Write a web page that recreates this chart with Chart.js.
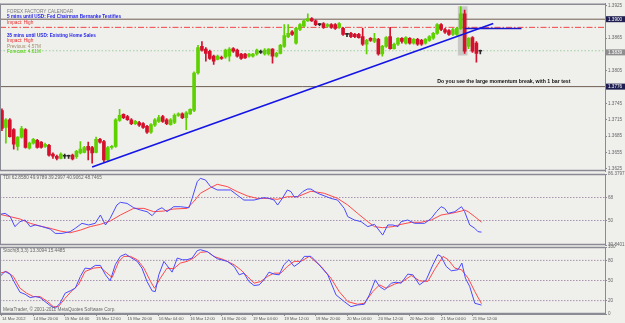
<!DOCTYPE html>
<html>
<head>
<meta charset="utf-8">
<script src="https://cdn.jsdelivr.net/npm/chart.js@4.4.1/dist/chart.umd.min.js"></script>
<style>
  html, body { margin: 0; padding: 0; background: #efefec; }
  #wrap { position: relative; width: 625px; height: 323px; overflow: hidden; }
  #wrap canvas { position: absolute; left: 0; top: 0; }
</style>
</head>
<body>
<div id="wrap">
  <canvas id="mainChart" width="625" height="323"></canvas>
  <canvas id="tdiChart" width="625" height="323"></canvas>
  <canvas id="stochChart" width="625" height="323"></canvas>
</div>
<script>
//****data, one entry per bar (bar 0 = 14 Mar 12:00)
var opens = [1.3732,1.3701,1.3715,1.3697,1.3666,1.3683,1.3697,1.3663,1.3672,1.3677,
	1.3674,1.3666,1.3668,1.3652,1.3648,1.3644,1.3648,1.3648,1.3650,1.3647,
	1.3654,1.3655,1.3666,1.3664,1.3655,1.3679,1.3675,1.3641,1.3664,1.3666,
	1.3714,1.3725,1.3721,1.3715,1.3708,1.3710,1.3708,1.3703,1.3692,1.3705,
	1.3712,1.3721,1.3715,1.3706,1.3710,1.3723,1.3726,1.3719,1.3726,1.3732,
	1.3801,1.3850,1.3845,1.3841,1.3832,1.3826,1.3830,1.3830,1.3832,1.3846,
	1.3843,1.3836,1.3836,1.3832,1.3832,1.3836,1.3839,1.3836,1.3836,1.3845,
	1.3832,1.3837,1.3850,1.3868,1.3877,1.3856,1.3881,1.3887,1.3897,1.3901,
	1.3897,1.3890,1.3892,1.3887,1.3890,1.3890,1.3885,1.3883,1.3872,1.3874,
	1.3872,1.3872,1.3868,1.3854,1.3865,1.3859,1.3863,1.3836,1.3850,1.3868,
	1.3846,1.3854,1.3865,1.3856,1.3865,1.3856,1.3863,1.3861,1.3856,1.3861,
	1.3865,1.3874,1.3890,1.3881,1.3879,1.3872,1.3872,1.3883,1.3910,1.3850,
	1.3866,1.3856,1.3841];
var highs = [1.3735,1.3717,1.3717,1.3699,1.3684,1.3703,1.3699,1.3674,1.3681,1.3679,
	1.3675,1.3672,1.3670,1.3654,1.3650,1.3654,1.3652,1.3650,1.3652,1.3659,
	1.3675,1.3666,1.3674,1.3666,1.3683,1.3681,1.3677,1.3666,1.3668,1.3717,
	1.3734,1.3726,1.3723,1.3717,1.3714,1.3712,1.3710,1.3705,1.3708,1.3717,
	1.3723,1.3723,1.3717,1.3717,1.3726,1.3728,1.3728,1.3730,1.3735,1.3803,
	1.3852,1.3859,1.3848,1.3843,1.3834,1.3834,1.3832,1.3845,1.3848,1.3848,
	1.3845,1.3837,1.3837,1.3837,1.3837,1.3845,1.3843,1.3846,1.3846,1.3846,
	1.3839,1.3854,1.3890,1.3890,1.3879,1.3885,1.3892,1.3899,1.3910,1.3903,
	1.3899,1.3892,1.3894,1.3892,1.3892,1.3892,1.3894,1.3885,1.3874,1.3876,
	1.3874,1.3874,1.3883,1.3863,1.3866,1.3874,1.3865,1.3852,1.3868,1.3885,
	1.3856,1.3866,1.3866,1.3868,1.3866,1.3865,1.3865,1.3863,1.3865,1.3870,
	1.3876,1.3892,1.3892,1.3883,1.3881,1.3883,1.3885,1.3923,1.3917,1.3866,
	1.3868,1.3859,1.3843];
var lows = [1.3695,1.3672,1.3683,1.3661,1.3659,1.3681,1.3663,1.3661,1.3670,1.3663,
	1.3663,1.3664,1.3648,1.3644,1.3641,1.3643,1.3644,1.3644,1.3641,1.3644,
	1.3652,1.3654,1.3641,1.3635,1.3654,1.3672,1.3637,1.3639,1.3661,1.3664,
	1.3712,1.3717,1.3714,1.3706,1.3706,1.3703,1.3699,1.3690,1.3690,1.3703,
	1.3710,1.3710,1.3706,1.3705,1.3708,1.3721,1.3717,1.3697,1.3725,1.3730,
	1.3799,1.3841,1.3823,1.3826,1.3817,1.3825,1.3826,1.3828,1.3823,1.3839,
	1.3830,1.3826,1.3828,1.3830,1.3830,1.3834,1.3837,1.3834,1.3834,1.3819,
	1.3830,1.3836,1.3848,1.3866,1.3870,1.3854,1.3879,1.3885,1.3896,1.3896,
	1.3888,1.3888,1.3883,1.3885,1.3883,1.3881,1.3883,1.3870,1.3868,1.3866,
	1.3866,1.3865,1.3852,1.3836,1.3859,1.3857,1.3834,1.3832,1.3848,1.3845,
	1.3845,1.3852,1.3856,1.3854,1.3854,1.3854,1.3852,1.3852,1.3854,1.3859,
	1.3863,1.3872,1.3879,1.3874,1.3870,1.3870,1.3870,1.3881,1.3837,1.3846,
	1.3839,1.3821,1.3836];
var closes = [1.3699,1.3715,1.3684,1.3670,1.3683,1.3699,1.3664,1.3672,1.3679,1.3664,
	1.3664,1.3670,1.3650,1.3648,1.3644,1.3652,1.3648,1.3648,1.3643,1.3657,
	1.3661,1.3664,1.3659,1.3654,1.3679,1.3674,1.3641,1.3664,1.3666,1.3715,
	1.3723,1.3719,1.3715,1.3708,1.3712,1.3705,1.3701,1.3692,1.3706,1.3715,
	1.3719,1.3712,1.3708,1.3715,1.3723,1.3726,1.3719,1.3728,1.3734,1.3801,
	1.3848,1.3843,1.3837,1.3828,1.3823,1.3832,1.3828,1.3843,1.3845,1.3841,
	1.3832,1.3828,1.3829,1.3836,1.3836,1.3843,1.3839,1.3843,1.3845,1.3832,
	1.3837,1.3852,1.3870,1.3874,1.3872,1.3883,1.3890,1.3897,1.3901,1.3897,
	1.3890,1.3890,1.3885,1.3890,1.3885,1.3883,1.3892,1.3872,1.3872,1.3868,
	1.3868,1.3866,1.3854,1.3861,1.3861,1.3865,1.3836,1.3850,1.3866,1.3846,
	1.3854,1.3865,1.3859,1.3866,1.3856,1.3863,1.3854,1.3854,1.3863,1.3868,
	1.3874,1.3890,1.3881,1.3876,1.3872,1.3881,1.3883,1.3910,1.3841,1.3865,
	1.3841,1.3837,1.3841];

//price axis
var priceTicks = [1.3925, 1.3865, 1.3805, 1.3745, 1.3715, 1.3685, 1.3655, 1.3625];
var priceTags = [1.3900, 1.3839, 1.3776];
var priceTagText = ['1.3900', '1.3839', '1.3776'];

//drawn objects on the price chart
var hLines = [1.3900, 1.3776];
var eventLine = 1.3885;
var bidLine = 1.3842;
var trendBars = [23, 125.3];
var trendPrices = [1.3628, 1.3892];
var breakBars = [118, 132.5];
var breakPrice = 1.3883;
var boxBar = 117.5;
var boxPrices = [1.3834, 1.3923];

//text
var calendarText = ['FOREX FACTORY CALENDAR', '5 mins until USD: Fed Chairman Bernanke Testifies', 'Impact: High',
	'35 mins until USD: Existing Home Sales', 'Impact: High', 'Previous: 4.57M', 'Forecast: 4.61M'];
var noteText = 'Do you see the large momentum break, with 1 bar test';
var noteBar = 128;
var notePrice = 1.3785;

//TDI window
var tdiTitle = 'TDI 62.8580 49.9789 39.2997 40.9062 48.7465';
var tdiTicks = [86.3797, 68, 50, 30.8401];
var tdiTickText = ['86.3797', '68', '50', '30.8401'];
var tdiLevels = [68, 50];
var tdiPriceBar = [-0.5,0.8,2.1,3.3,4.6,5.9,7.2,8.5,9.7,12.3,13.6,15.3,17.4,18.7,20.4,22.1,23.8,25.1,26.4,
	27.6,29.3,30.2,31.9,33.6,35.3,37.0,38.3,39.6,40.8,42.1,43.8,45.5,47.7,48.5,49.8,50.6,51.9,53.2,54.9,
	58.3,60.0,61.7,64.3,66.8,68.1,69.4,70.3,71.5,72.8,73.7,74.5,75.4,76.7,77.9,78.8,80.5,83.9,85.6,87.3,
	88.2,89.9,91.6,93.3,95.0,97.1,98.4,99.7,101.0,101.8,103.5,105.2,107.8,109.5,110.8,112.0,112.9,113.8,
	115.5,117.2,118.0,119.3,120.6,121.4,122.3];
var tdiPriceVal = [54.8,55.6,53.0,45.2,49.1,50.4,45.2,46.5,45.7,43.3,39.9,39.9,41.3,43.9,47.8,46.5,47.8,54.3,46.5,
	51.7,62.1,64.2,63.4,60.0,58.2,56.9,53.8,58.2,60.0,56.9,60.8,60.8,60.0,67.3,80.4,83.0,81.7,76.5,73.9,
	73.9,69.9,66.0,66.0,67.9,67.3,66.0,62.1,67.3,73.9,72.6,68.6,68.6,72.6,74.6,74.6,71.3,67.3,66.0,59.5,
	53.0,50.4,49.1,45.2,47.0,38.6,46.5,46.5,45.2,49.1,50.4,47.8,47.8,51.7,56.9,60.8,59.5,55.6,
	56.9,60.8,56.9,46.5,43.9,41.3,40.9];
var tdiSignalBar = [-0.5,2.1,4.6,7.2,9.7,12.3,14.8,17.4,20.0,22.5,25.1,27.6,30.2,31.9,33.6,36.2,38.7,41.3,43.8,47.2,
	48.9,50.6,53.2,54.9,57.5,60.0,62.6,65.1,67.7,70.3,72.8,75.4,78.8,82.2,85.6,88.2,90.7,93.3,95.0,97.1,
	99.7,101.8,104.4,106.9,109.5,112.0,114.6,117.2,118.0,118.9,120.6,122.3];
var tdiSignalVal = [54.8,53.0,51.2,47.8,45.7,43.9,41.8,40.4,42.5,45.2,47.0,49.6,54.3,56.9,59.5,59.5,56.9,57.4,59.0,59.5,
	64.7,71.3,75.7,78.3,76.5,72.6,69.2,67.3,67.3,66.6,68.6,68.6,72.9,71.3,67.3,62.1,55.6,49.1,45.2,44.4,
	45.2,47.0,48.6,48.6,50.4,54.3,55.6,57.4,58.2,56.9,53.0,48.7];

//Stochastic window
var stochTitle = 'Stoch(8,3,3) 13.3094 15.4485';
var copyText = 'MetaTrader, \u00a9 2001-2011 MetaQuotes Software Corp.';
var stochTicks = [100, 80, 50, 20, 0];
var stochLevels = [80, 50, 20];
var stochMainBar = [-0.5,0.8,2.1,3.3,4.6,5.9,7.2,8.5,9.7,11.0,12.3,13.6,14.8,16.1,17.4,18.7,20.0,21.2,22.5,23.8,
	25.1,26.4,27.6,28.9,30.2,31.5,32.8,34.5,35.7,37.0,38.3,39.1,40.0,41.3,42.6,43.4,44.7,46.0,47.2,48.5,
	49.8,50.6,52.4,54.9,57.5,59.2,60.5,61.7,63.0,64.3,65.6,66.8,68.1,69.4,70.7,71.9,73.2,74.5,75.8,77.1,
	78.8,80.5,83.1,85.2,87.3,89.0,90.7,92.4,93.7,95.2,96.3,97.6,99.3,100.5,101.8,103.5,104.8,106.5,108.2,109.9,
	111.2,112.0,113.3,114.6,116.3,117.3,118.2,119.3,120.6,122.3];
var stochMainVal = [56,63.5,59.5,46,32.5,29.5,24.5,26,24.5,18.5,12.5,8.5,16,31,34.5,38.5,56,68.5,67.5,72.5,
	72.5,58.5,49.5,73.5,86,89.5,84.5,78.5,68.5,48.5,34.5,33.5,58.5,78.5,68.5,62.5,83.5,81,81,83.5,
	94.5,96,93,82.5,78.5,71,58.5,61,48.5,42.5,43.5,51,62.5,59.5,58.5,73.5,81,71,76,86,
	86,76,58.5,28.5,18.5,11,13.5,14.5,28.5,51,41,36,46,47.5,46,59.5,58.5,43.5,51,73.5,
	88.5,86,71,64.5,66,76,53.5,41,16,13.3];
var stochSigBar = [-0.5,1.2,2.9,4.6,6.3,8.0,9.7,11.4,13.1,14.4,16.1,17.8,19.5,21.2,23.4,25.1,26.8,28.1,29.8,31.1,
	32.8,34.5,36.2,37.9,38.9,40.4,42.1,43.8,45.5,47.2,48.9,50.6,52.4,54.0,56.6,59.2,60.9,62.6,64.3,66.0,
	67.7,69.4,71.1,72.8,74.5,76.2,78.4,81.4,83.9,86.0,88.2,90.7,92.4,94.6,96.3,98.0,100.1,102.2,104.4,106.5,
	108.6,110.3,112.5,113.8,115.5,117.2,118.9,120.6,122.3];
var stochSigVal = [61,63.5,56,38.5,31,26,26,19.5,11,11,23.5,34.5,43.5,63.5,68.5,69.5,61,54.5,78.5,86,
	86,81,68.5,48.5,38.5,53.5,68.5,67.5,76,78.5,83.5,92,93,86,81,73.5,66,56,46,48.5,
	56,61,61,71,78.5,78.5,86,71,53.5,33.5,18.5,14.5,16,33.5,43.5,38.5,44.5,48.5,57.5,49.5,
	48.5,66,86,81,68.5,66,53.5,33.5,15.4];

//time axis
var timeTickBars = [0, 8, 16, 24, 32, 40, 48, 56, 64, 72, 80, 88, 96, 104, 112, 120];
var timeLabels = ['14 Mar 2012', '14 Mar 20:00', '15 Mar 04:00', '15 Mar 12:00', '15 Mar 20:00', '16 Mar 04:00',
	'16 Mar 12:00', '16 Mar 20:00', '19 Mar 04:00', '19 Mar 12:00', '19 Mar 20:00', '20 Mar 04:00',
	'20 Mar 12:00', '20 Mar 20:00', '21 Mar 04:00', '21 Mar 12:00'];

//****look
var FONT = "'Liberation Sans', Arial, sans-serif";
var BAR_MIN = -0.5;
var BAR_MAX = 153.8;
var BULL = '#5fd000';
var BEAR = '#d4102c';
var AXIS = '#8a8a94';

function pts(xs, ys){
	var out = [];
	xs.forEach(function(v, k){ out.push({x: v, y: ys[k]}); });
	return out;
}
function flat(v){
	return [{x: BAR_MIN, y: v}, {x: BAR_MAX, y: v}];
}
function lineSet(data, color, width, dash, order){
	return {type: 'line', data: data, borderColor: color, borderWidth: width, borderDash: dash || [],
		pointRadius: 0, tension: 0, fill: false, order: order || 0};
}

//frame of each window
var frame = {
	id: 'frame',
	afterDraw: function(chart){
		var a = chart.chartArea, ctx = chart.ctx;
		ctx.save();
		ctx.strokeStyle = AXIS;
		ctx.lineWidth = 1.5;
		ctx.beginPath();
		ctx.moveTo(0, a.top + 0.5); ctx.lineTo(a.right, a.top + 0.5);
		ctx.moveTo(0, a.bottom - 0.5); ctx.lineTo(a.right, a.bottom - 0.5);
		ctx.stroke();
		ctx.lineWidth = 1;
		ctx.beginPath();
		ctx.moveTo(0.5, a.top); ctx.lineTo(0.5, a.bottom);
		ctx.stroke();
		ctx.restore();
	}
};

function commonOptions(padTop, padBottom, yMin, yMax, ticks, tickText){
	return {
		responsive: false,
		animation: false,
		events: [],
		layout: {padding: {top: padTop, bottom: padBottom, left: 0, right: 0}},
		plugins: {legend: {display: false}, tooltip: {enabled: false}},
		scales: {
			x: {type: 'linear', min: BAR_MIN, max: BAR_MAX, offset: false, display: false},
			y: {
				position: 'right', min: yMin, max: yMax, beginAtZero: false,
				afterFit: function(scale){ scale.width = 20; },
				afterBuildTicks: function(scale){ scale.ticks = ticks.map(function(v){ return {value: v}; }); },
				ticks: {
					font: {family: FONT, size: 4.6}, color: '#666', padding: 1, autoSkip: false,
					callback: function(v, i){ return tickText[i]; }
				},
				grid: {drawOnChartArea: false, drawTicks: true, tickLength: 2, color: AXIS},
				border: {display: true, color: AXIS}
			}
		}
	};
}

//****price window
var barNo = opens.map(function(v, k){ return k; });
var candleColor = opens.map(function(o, k){
	if(closes[k] > o) return BULL;
	if(closes[k] < o) return BEAR;
	return '#2a2a2a';
});

var mainText = {
	id: 'mainText',
	afterDraw: function(chart){
		var ctx = chart.ctx, ys = chart.scales.y, xs = chart.scales.x, a = chart.chartArea;
		ctx.save();
		ctx.textBaseline = 'middle';
		ctx.textAlign = 'left';
		//calendar block in the corner
		var rows = [9.5, 15, 21, 33.5, 39, 44.5, 50];
		var colors = ['#7c7c7c', '#2626e6', '#ec2a2a', '#2626e6', '#ec2a2a', '#a08c6c', '#48cc00'];
		calendarText.forEach(function(t, k){
			ctx.font = (k == 1 || k == 3 ? 'bold ' : '') + '4.7px ' + FONT;
			ctx.fillStyle = colors[k];
			ctx.fillText(t, a.left + 7, a.top + rows[k] - 2);
		});
		//note
		ctx.font = 'bold 5.2px ' + FONT;
		ctx.fillStyle = '#111';
		ctx.textAlign = 'center';
		ctx.fillText(noteText, xs.getPixelForValue(noteBar), ys.getPixelForValue(notePrice));
		//price tags on the axis
		ctx.font = '4.6px ' + FONT;
		ctx.textAlign = 'left';
		var tagBg = ['#1e1e52', '#8e8e8e', '#1e1e52'];
		priceTags.forEach(function(p, k){
			var y = ys.getPixelForValue(p);
			ctx.fillStyle = tagBg[k];
			ctx.fillRect(a.right + 1, y - 3, 19, 6);
			ctx.fillStyle = '#fff';
			ctx.fillText(priceTagText[k], a.right + 3, y + 0.3);
		});
		ctx.restore();
	}
};

var mainSets = [
	{type: 'bar', data: [{x: boxBar, y: boxPrices}], backgroundColor: 'rgba(170,170,170,0.55)',
		barThickness: 9, grouped: false, order: 20},
	lineSet(flat(hLines[0]), '#6e5e52', 1, [], 12),
	lineSet(flat(hLines[1]), '#6e5e52', 1, [], 12),
	lineSet(flat(eventLine), '#f04444', 1, [6, 2, 1.5, 2], 12),
	lineSet(flat(bidLine), '#9fd09f', 1, [1.5, 2], 12),
	{type: 'bar', data: pts(barNo, barNo.map(function(k){ return [lows[k], highs[k]]; })),
		backgroundColor: candleColor, barThickness: 1, grouped: false, order: 6},
	{type: 'bar', data: pts(barNo, barNo.map(function(k){ return [opens[k], closes[k]]; })),
		backgroundColor: candleColor, barThickness: 3, minBarLength: 1, grouped: false, order: 5},
	lineSet(pts(trendBars, trendPrices), '#1414e6', 1.6, [], 1),
	lineSet(pts(breakBars, [breakPrice, breakPrice]), '#1a1ac8', 1.4, [], 1)
];

var mainOpts = commonOptions(2, 152, 1.36208, 1.39284, priceTicks, priceTicks.map(function(v){ return v.toFixed(4); }));
new Chart(document.getElementById('mainChart'), {
	type: 'bar',
	data: {datasets: mainSets},
	options: mainOpts,
	plugins: [frame, mainText]
});

//****TDI window
function titleText(title, atBottom){
	return {
		id: 'title' + title.length,
		afterDraw: function(chart){
			var ctx = chart.ctx, a = chart.chartArea;
			ctx.save();
			ctx.font = '4.7px ' + FONT;
			ctx.fillStyle = '#666';
			ctx.textBaseline = 'middle';
			ctx.fillText(title, a.left + 3, a.top + 4);
			if(atBottom) ctx.fillText(atBottom, a.left + 3, a.bottom - 4);
			ctx.restore();
		}
	};
}

var LEVEL = '#a893ae';
var tdiSets = tdiLevels.map(function(v){ return lineSet(flat(v), LEVEL, 1, [1.5, 1.5], 5); });
tdiSets.push(lineSet(pts(tdiSignalBar, tdiSignalVal), '#ff4848', 1, [], 2));
tdiSets.push(lineSet(pts(tdiPriceBar, tdiPriceVal), '#4a4aff', 1, [], 1));

new Chart(document.getElementById('tdiChart'), {
	type: 'line',
	data: {datasets: tdiSets},
	options: commonOptions(174, 78, 30.8401, 86.3797, tdiTicks, tdiTickText),
	plugins: [frame, titleText(tdiTitle)]
});

//****Stochastic window with the time axis
var stochSets = stochLevels.map(function(v){ return lineSet(flat(v), LEVEL, 1, [1.5, 1.5], 5); });
stochSets.push(lineSet(pts(stochSigBar, stochSigVal), '#ff4848', 1, [], 2));
stochSets.push(lineSet(pts(stochMainBar, stochMainVal), '#4a4aff', 1, [], 1));

var stochOpts = commonOptions(247, 0, 0, 100, stochTicks, stochTicks.map(String));
stochOpts.scales.x = {
	type: 'linear', min: BAR_MIN, max: BAR_MAX, offset: false, display: true,
	afterFit: function(scale){ scale.height = 9; },
	afterBuildTicks: function(scale){ scale.ticks = timeTickBars.map(function(v){ return {value: v}; }); },
	ticks: {
		font: {family: FONT, size: 4.2}, color: '#555', padding: 0, align: 'start',
		maxRotation: 0, minRotation: 0, autoSkip: false,
		callback: function(v, i){ return timeLabels[i]; }
	},
	grid: {drawOnChartArea: false, drawTicks: true, tickLength: 2, color: AXIS},
	border: {display: true, color: AXIS}
};

new Chart(document.getElementById('stochChart'), {
	type: 'line',
	data: {datasets: stochSets},
	options: stochOpts,
	plugins: [frame, titleText(stochTitle, copyText)]
});
</script>
</body>
</html>
